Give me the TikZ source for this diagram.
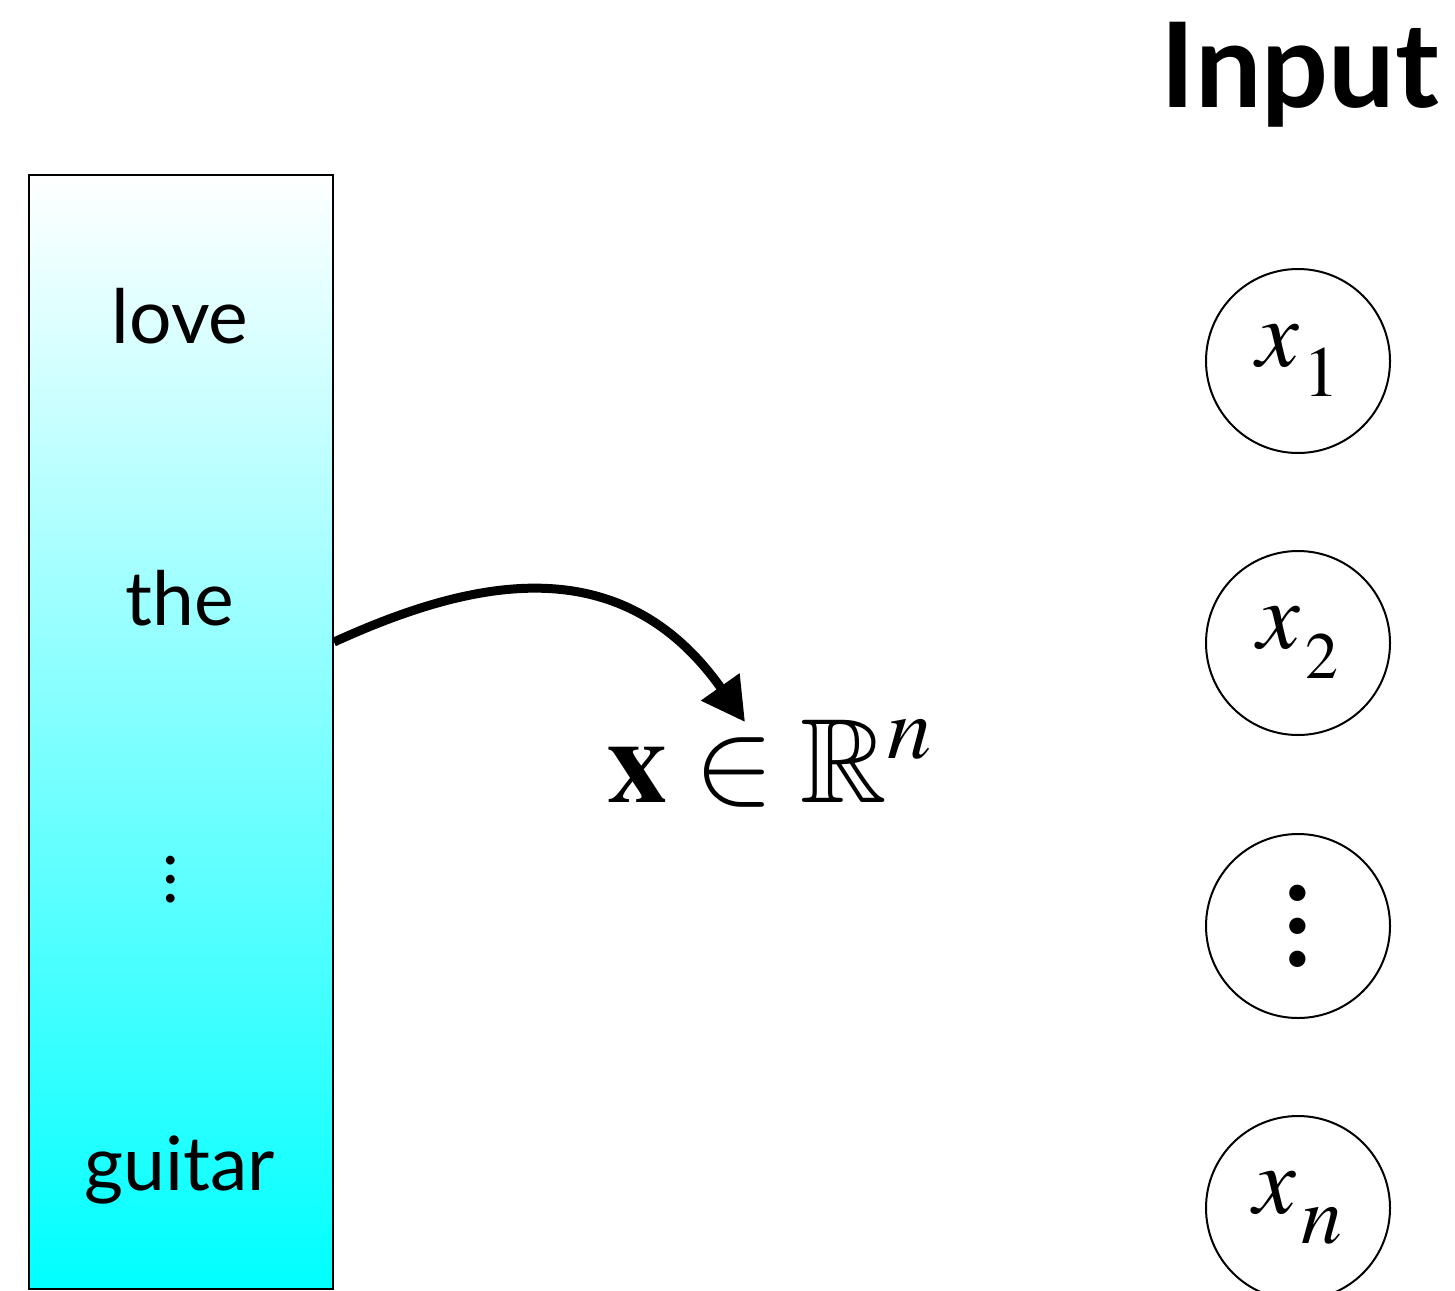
\documentclass[tikz,border=0pt]{standalone}
\usepackage{mathptmx}
\usepackage{amssymb}
\usepackage[no-math]{fontspec}
\setmainfont{Lato}
\usetikzlibrary{arrows.meta,calc}
\newcommand{\myvdots}[1]{\vbox{\baselineskip=#1\lineskiplimit=-200pt\hbox{.}\hbox{.}\hbox{.}}}
\newcommand{\xsub}[2]{\hbox{$x$}\kern5pt\lower30pt\hbox{\fontsize{#2}{#2}\selectfont$#1$}}
\begin{document}
\begin{tikzpicture}[x=1pt,y=-1pt,
  word/.style={font=\fontsize{75}{90}\selectfont, anchor=base, inner sep=0pt},
  unit/.style={circle, draw, line width=2pt, minimum size=184pt, inner sep=0pt, font=\fontsize{96}{110}\selectfont},
  link/.style={line width=9pt, -{Triangle[length=43pt,width=45pt]}}]
\useasboundingbox (0,0) rectangle (1455,1290);
\node[draw, line width=2pt, top color=white, bottom color=cyan, minimum width=304pt, minimum height=1114pt, inner sep=0pt, anchor=north west] (box) at (28,174) {};
\node[word] (love) at (180,343) {love};
\node[word] (the) at (180,625) {the};
\node[font=\fontsize{70}{90}\selectfont, inner sep=0pt] (ldots) at (171,880) {\myvdots{19pt}};
\node[word] (guitar) at (180,1190) {guitar};
\node[font=\fontsize{118}{140}\selectfont\bfseries, anchor=base, inner sep=0pt] (title) at (1300,107) {Input};
\node[unit] (x1) at (1298,361) {\xsub{1}{72}};
\node[unit] (x2) at (1298,643) {\xsub{2}{66}};
\node[unit] (xd) at (1298,926) {\fontsize{130}{140}\selectfont\myvdots{33pt}};
\node[unit] (xn) at (1298,1208) {\xsub{n}{82}};
\node[font=\fontsize{120}{140}\selectfont, anchor=base, inner sep=0pt] (vec) at (770,802) {$\mathbf{x}\in\mathbb{R}^n$};
\coordinate (h) at (0,642);
\coordinate (tgt) at (745,722);
\draw[link] (box.east |- h) .. controls (470,580) and (620,545) .. (tgt);
\end{tikzpicture}
\end{document}
